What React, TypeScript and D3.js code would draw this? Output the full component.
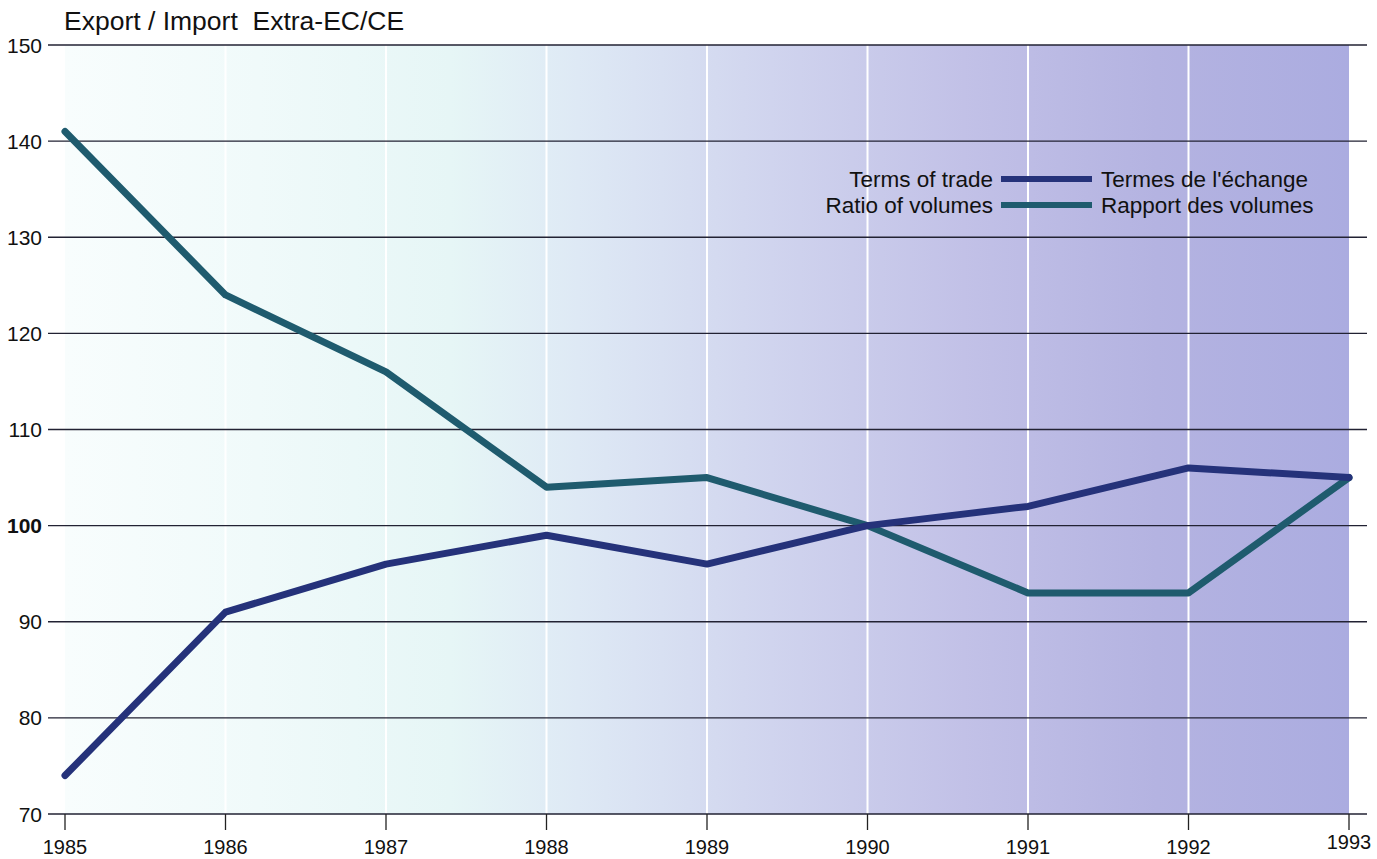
import React, { useEffect, useRef } from "react";
import * as d3 from "d3";

const years = [1985, 1986, 1987, 1988, 1989, 1990, 1991, 1992, 1993];
const termsOfTrade = [74, 91, 96, 99, 96, 100, 102, 106, 105];
const ratioOfVolumes = [141, 124, 116, 104, 105, 100, 93, 93, 105];
const yTicks = [70, 80, 90, 100, 110, 120, 130, 140, 150];

const W = 1377;
const H = 859;

export default function App() {
  const svgRef = useRef<SVGSVGElement | null>(null);

  useEffect(() => {
    if (!svgRef.current) return;
    const svg = d3.select(svgRef.current);
    svg.selectAll("*").remove();

    const x = d3.scaleLinear().domain([1985, 1993]).range([65, 1349]);
    const y = d3.scaleLinear().domain([70, 150]).range([814, 45]);
    const font = "'Liberation Sans', Arial, sans-serif";

    // background gradient
    const defs = svg.append("defs");
    const grad = defs
      .append("linearGradient")
      .attr("id", "bg")
      .attr("x1", "0%")
      .attr("x2", "100%")
      .attr("y1", "0%")
      .attr("y2", "0%");
    [
      [0, "#f8fdfd"],
      [0.15, "#f0fafa"],
      [0.3, "#e6f6f6"],
      [0.4, "#dee9f5"],
      [0.55, "#d0d4ee"],
      [0.7, "#c2c1e7"],
      [0.85, "#b4b3e1"],
      [1, "#abace0"],
    ].forEach(([o, c]) => grad.append("stop").attr("offset", o as number).attr("stop-color", c as string));

    svg
      .append("rect")
      .attr("x", x(1985))
      .attr("y", y(150))
      .attr("width", x(1993) - x(1985))
      .attr("height", y(70) - y(150))
      .attr("fill", "url(#bg)");

    // white vertical lines
    svg
      .selectAll(".vline")
      .data(years.slice(1, -1))
      .enter()
      .append("line")
      .attr("x1", (d) => x(d))
      .attr("x2", (d) => x(d))
      .attr("y1", y(150))
      .attr("y2", y(70))
      .attr("stroke", "#ffffff")
      .attr("stroke-width", 2);

    // horizontal gridlines
    svg
      .selectAll(".hline")
      .data(yTicks)
      .enter()
      .append("line")
      .attr("x1", 48)
      .attr("x2", 1367)
      .attr("y1", (d) => y(d))
      .attr("y2", (d) => y(d))
      .attr("stroke", "#222233")
      .attr("stroke-width", 1.3);

    // y labels
    svg
      .selectAll(".ylab")
      .data(yTicks)
      .enter()
      .append("text")
      .attr("x", 42)
      .attr("y", (d) => y(d))
      .attr("dy", "0.36em")
      .attr("text-anchor", "end")
      .attr("fill", "#111")
      .style("font-family", font)
      .style("font-size", "21px")
      .style("font-weight", (d) => (d === 100 ? "bold" : "normal"))
      .text((d) => d);

    // x ticks and labels
    svg
      .selectAll(".xtick")
      .data(years)
      .enter()
      .append("line")
      .attr("x1", (d) => x(d))
      .attr("x2", (d) => x(d))
      .attr("y1", y(70))
      .attr("y2", 830)
      .attr("stroke", "#222")
      .attr("stroke-width", 1.3);

    svg
      .selectAll(".xlab")
      .data(years)
      .enter()
      .append("text")
      .attr("x", (d) => x(d))
      .attr("y", (d) => (d === 1993 ? 849 : 854))
      .attr("text-anchor", "middle")
      .attr("fill", "#111")
      .style("font-family", font)
      .style("font-size", "20px")
      .text((d) => d);

    // title
    svg
      .append("text")
      .attr("x", 64)
      .attr("y", 30)
      .attr("fill", "#111")
      .attr("xml:space", "preserve")
      .style("white-space", "pre")
      .style("font-family", font)
      .style("font-size", "26.5px")
      .text("Export / Import  Extra-EC/CE");

    // lines
    const line = d3
      .line<number>()
      .x((_, i) => x(years[i]))
      .y((d) => y(d));

    const series = [
      { values: ratioOfVolumes, color: "#1f5b6e" },
      { values: termsOfTrade, color: "#25327a" },
    ];
    series.forEach((s) => {
      svg
        .append("path")
        .attr("d", line(s.values) || "")
        .attr("fill", "none")
        .attr("stroke", s.color)
        .attr("stroke-width", 7)
        .attr("stroke-linejoin", "round")
        .attr("stroke-linecap", "round");
    });

    // legend
    const legend = [
      { en: "Terms of trade", fr: "Termes de l'échange", color: "#25327a", y: 179 },
      { en: "Ratio of volumes", fr: "Rapport des volumes", color: "#1f5b6e", y: 205 },
    ];
    legend.forEach((l) => {
      svg
        .append("text")
        .attr("x", 993)
        .attr("y", l.y)
        .attr("dy", "0.36em")
        .attr("text-anchor", "end")
        .attr("fill", "#111")
        .style("font-family", font)
        .style("font-size", "22.5px")
        .text(l.en);
      svg
        .append("line")
        .attr("x1", 1001)
        .attr("x2", 1092)
        .attr("y1", l.y)
        .attr("y2", l.y)
        .attr("stroke", l.color)
        .attr("stroke-width", 6);
      svg
        .append("text")
        .attr("x", 1101)
        .attr("y", l.y)
        .attr("dy", "0.36em")
        .attr("fill", "#111")
        .style("font-family", font)
        .style("font-size", "22.5px")
        .text(l.fr);
    });
  }, []);

  return (
    <svg
      ref={svgRef}
      width={W}
      height={H}
      style={{ position: "absolute", left: 0, top: 0, background: "#fff" }}
    />
  );
}
